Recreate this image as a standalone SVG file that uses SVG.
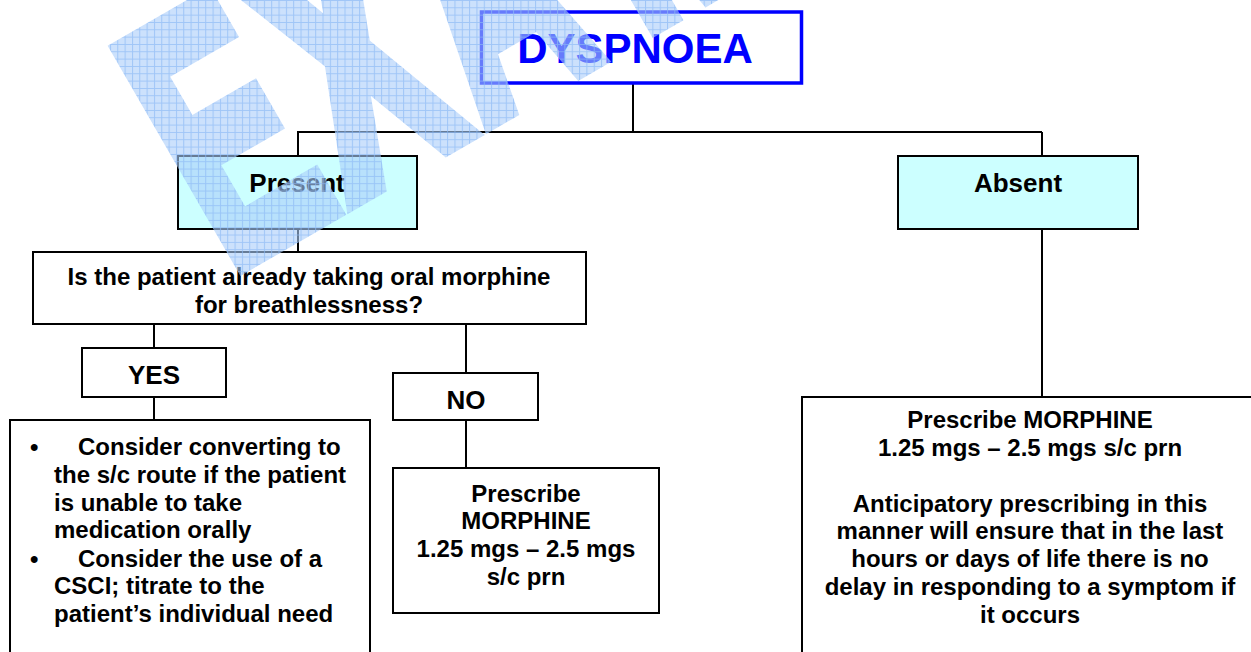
<svg xmlns="http://www.w3.org/2000/svg" width="1251" height="652" viewBox="0 0 1251 652">
<style>
  text { font-family: "Liberation Sans", Arial, sans-serif; font-weight: bold; fill: #000; }
  .box { fill: #fff; stroke: #000; stroke-width: 2; }
  .cyan { fill: #ccffff; stroke: #000; stroke-width: 2; }
  #connectors line { stroke: #000; stroke-width: 2; }
  .h { font-size: 26px; text-anchor: middle; }
  .b { font-size: 24px; }
  .c { text-anchor: middle; }
  text.wm { fill: #fff; stroke: #fff; stroke-width: 5px; stroke-linejoin: miter; font-size: 100px; }
</style>
<defs>
  <!-- light blue graph-paper fill used for the watermark -->
  <pattern id="grid" patternUnits="userSpaceOnUse" width="7.33" height="7.33">
    <rect width="7.33" height="7.33" fill="#aacdfa" fill-opacity="0.6"/>
    <path d="M0 0.5H7.33M0.5 0V7.33" stroke="#8dbaf5" stroke-opacity="0.7" stroke-width="1"/>
  </pattern>
  <!-- tall, tilted watermark letters (each placed along the tilted baseline) -->
  <mask id="wmMask" maskUnits="userSpaceOnUse" x="0" y="0" width="1251" height="652">
    <g transform="translate(241.5,275.3) rotate(-30)">
      <text class="wm" transform="scale(2,3.6)" x="-4.8" y="-2.5">E</text>
      <text class="wm" transform="translate(126,0) scale(2.14,3.6)" x="2" y="-2.5">X</text>
      <text class="wm" transform="translate(279.5,0) scale(1.95,3.6)" x="2.5" y="-2.5">A</text>
      <text class="wm" transform="translate(476,0) scale(2,3.6)" x="-4.8" y="-2.5">M</text>
    </g>
  </mask>
</defs>

<rect width="1251" height="652" fill="#fff"/>

<g id="connectors">
  <line x1="633" y1="84" x2="633" y2="132"/>
  <line x1="297" y1="132" x2="1042" y2="132"/>
  <line x1="298" y1="132" x2="298" y2="156"/>
  <line x1="1042" y1="132" x2="1042" y2="156"/>
  <line x1="298" y1="229" x2="298" y2="252"/>
  <line x1="1042" y1="229" x2="1042" y2="397"/>
  <line x1="154" y1="324" x2="154" y2="348"/>
  <line x1="154" y1="397" x2="154" y2="420"/>
  <line x1="466" y1="324" x2="466" y2="373"/>
  <line x1="466" y1="420" x2="466" y2="468"/>
</g>

<g id="dyspnoea">
  <rect x="481.5" y="12" width="320" height="71" fill="#fff" stroke="#0000ff" stroke-width="3.5"/>
  <text x="635" y="63" text-anchor="middle" style="font-size:42px;fill:#0000ff">DYSPNOEA</text>
</g>

<g id="present">
  <rect class="cyan" x="178" y="156" width="239" height="73"/>
  <text class="h" x="297" y="191.5">Present</text>
</g>

<g id="absent">
  <rect class="cyan" x="898" y="156" width="240" height="73"/>
  <text class="h" x="1018" y="191.5">Absent</text>
</g>

<g id="question">
  <rect class="box" x="33" y="252" width="553" height="72"/>
  <text class="b c" x="309" y="285">Is the patient already taking oral morphine</text>
  <text class="b c" x="309" y="312.5">for breathlessness?</text>
</g>

<g id="yes">
  <rect class="box" x="82" y="348" width="144" height="49"/>
  <text class="h" x="154" y="384">YES</text>
</g>

<g id="no">
  <rect class="box" x="393" y="373" width="145" height="47"/>
  <text class="h" x="466" y="408.5">NO</text>
</g>

<g id="yes-action">
  <rect class="box" x="10" y="420" width="360" height="245"/>
  <text class="b" x="30" y="455">•</text>
  <text class="b" x="78" y="455">Consider converting to</text>
  <text class="b" x="54" y="482.7">the s/c route if the patient</text>
  <text class="b" x="54" y="510.5">is unable to take</text>
  <text class="b" x="54" y="538.3">medication orally</text>
  <text class="b" x="30" y="566.5">•</text>
  <text class="b" x="78" y="566.5">Consider the use of a</text>
  <text class="b" x="54" y="594.3">CSCI; titrate to the</text>
  <text class="b" x="54" y="622.2">patient’s individual need</text>
</g>

<g id="no-action">
  <rect class="box" x="393" y="468" width="266" height="145"/>
  <text class="b c" x="526" y="501.7">Prescribe</text>
  <text class="b c" x="526" y="529.3">MORPHINE</text>
  <text class="b c" x="526" y="557">1.25 mgs – 2.5 mgs</text>
  <text class="b c" x="526" y="584.5">s/c prn</text>
</g>

<g id="absent-action">
  <rect class="box" x="802" y="397" width="460" height="268"/>
  <text class="b c" x="1030" y="428.3">Prescribe MORPHINE</text>
  <text class="b c" x="1030" y="456">1.25 mgs – 2.5 mgs s/c prn</text>
  <text class="b c" x="1030" y="511.7">Anticipatory prescribing in this</text>
  <text class="b c" x="1030" y="539.4">manner will ensure that in the last</text>
  <text class="b c" x="1030" y="567.2">hours or days of life there is no</text>
  <text class="b c" x="1030" y="595">delay in responding to a symptom if</text>
  <text class="b c" x="1030" y="622.7">it occurs</text>
</g>

<!-- translucent graph-paper watermark lettering laid over the chart -->
<g id="watermark">
  <rect width="1251" height="652" fill="url(#grid)" mask="url(#wmMask)"/>
</g>
</svg>
